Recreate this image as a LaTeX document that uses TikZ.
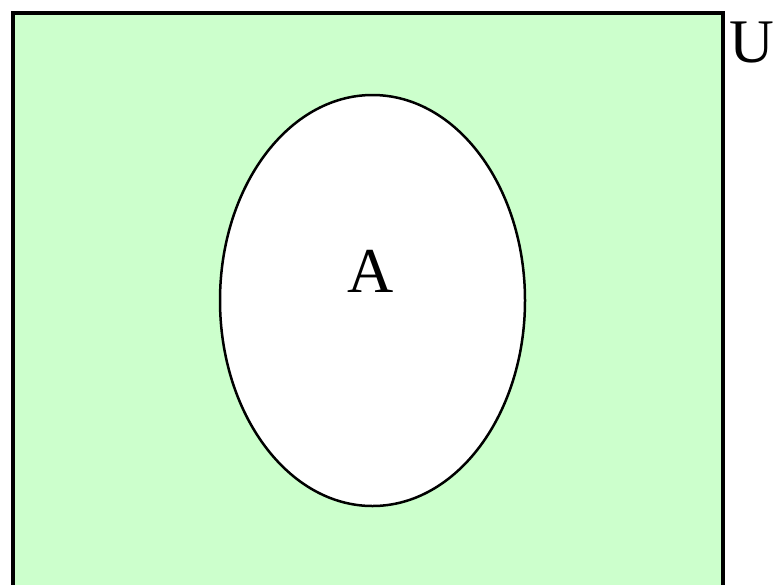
\documentclass[tikz,border=0pt]{standalone}
\usepackage{fontspec}
\setmainfont{Liberation Serif}
\usetikzlibrary{shapes.geometric}

\tikzset{
  universe/.style={fill=venngreen, draw=black, line width=4pt},
  setellipse/.style={ellipse, draw=black, fill=white, line width=2.5pt,
    minimum width=305pt, minimum height=411pt, inner sep=0pt},
  setlabel/.style={font=\fontsize{64}{64}\selectfont, inner sep=0pt}
}
\definecolor{venngreen}{HTML}{CCFFCC}

\begin{document}
\begin{tikzpicture}[x=1pt,y=-1pt]
	\useasboundingbox (0,0) rectangle (775,584);
	\clip (0,0) rectangle (775,584);

	% universe U
	\draw[universe] (13,13) rectangle (722.5,620);
	\node[setlabel, font=\fontsize{62}{62}\selectfont, anchor=base west] (labelU) at (729,62) {U};

	% set A
	\node[setellipse] (setA) at (372.5,300.5) {};
	\node[setlabel] (labelA) at (371,271) {A};
\end{tikzpicture}
\end{document}
